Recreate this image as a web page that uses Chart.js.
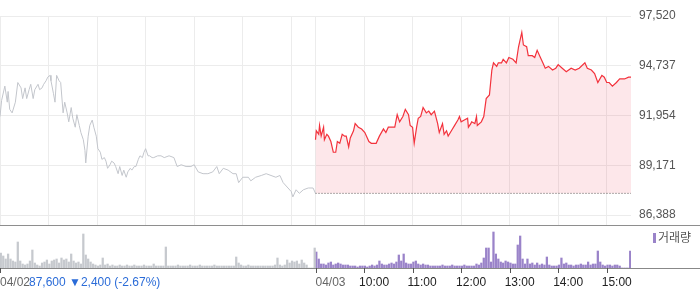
<!DOCTYPE html>
<html>
<head>
<meta charset="utf-8">
<script src="https://cdn.jsdelivr.net/npm/chart.js@4.4.1/dist/chart.umd.min.js"></script>
<style>
  body { margin: 0; background: #fff; }
  #wrap { position: relative; width: 700px; height: 289px; overflow: hidden; font-family: 'Liberation Sans', Arial, sans-serif; }
  canvas { position: absolute; left: 0; }
  #price-chart { top: 0; }
  #vol-chart { top: 226px; }
  .change { position: absolute; left: 29px; top: 275px; font-size: 12px; color: #2b6cd8; white-space: nowrap; line-height: 14px; }
  .vol-legend { position: absolute; left: 653px; top: 230px; font-size: 12px; color: #555; line-height: 14px; font-family: 'Noto Sans CJK KR', sans-serif; }
  .vol-legend i { display: inline-block; width: 3px; height: 10px; background: #9a83c9; margin-right: 2px; vertical-align: -1px; }
</style>
</head>
<body>
<div id="wrap">
  <canvas id="price-chart" width="700" height="226"></canvas>
  <canvas id="vol-chart" width="700" height="63"></canvas>
  <div class="change">87,600 ▼2,400 (-2.67%)</div>
  <div class="vol-legend"><i></i>거래량</div>
</div>
<script>
// minutes after 09:00, two sessions of 390 min each
const day1Min = [0,2,6,9,10,12,15,19,22,26,28,31,33,36,38,41,43,47,49,52,54,57,59,62,63,66,68,70,73,75,
  78,80,83,85,88,90,93,95,98,100,103,105,106,109,111,114,116,119,121,124,126,129,131,133,136,138,141,143,146,148,
  151,153,156,158,161,163,166,168,171,173,176,178,180,183,185,188,190,195,199,203,209,215,219,224,230,236,240,245,251,257,
  263,268,271,276,282,288,292,295,300,307,310,316,323,329,335,341,346,350,356,360,362,366,370,375,381,387,390];
const day1Price = [91900,92800,93600,92700,93300,92300,92100,92700,93800,93500,92900,93500,92900,93400,93700,92900,93400,93700,93400,93500,93700,93900,94100,94200,93900,93200,92700,94200,93900,93800,
  92100,92700,92100,91600,92400,91800,91300,92000,91400,91000,90600,90000,89300,90800,91400,91700,91300,90800,90100,89900,89500,89600,89400,89000,89200,89400,89300,89100,88700,89100,
  88600,88900,88500,88800,89000,88900,89100,89100,89500,89700,89600,89900,90100,89700,89700,89600,89600,89700,89700,89600,89700,89600,89100,89200,89100,89100,89200,88800,88700,88700,
  88800,89100,88700,89000,88900,88700,88700,88200,88500,88500,88300,88500,88600,88700,88600,88500,88600,88200,87900,87700,87400,87800,87600,87800,87900,87900,87600];

const day2Min = [0,1,4,5,7,10,11,14,16,19,22,25,27,30,33,36,38,41,43,47,49,53,57,61,66,69,75,79,84,87,
  90,94,98,101,104,108,111,115,117,120,122,125,127,130,133,137,140,143,147,151,153,157,159,162,164,168,172,176,178,180,
  184,188,189,192,193,197,199,200,205,208,211,215,218,220,224,226,230,232,236,239,244,248,251,255,257,261,263,268,271,274,
  278,281,284,288,293,297,300,305,310,316,321,326,333,336,341,345,349,354,357,360,363,367,372,376,382,387,390];
const day2Price = [90600,91100,90900,91400,90800,91300,90600,90900,90800,90500,89900,89900,90500,90400,90900,90800,90800,90200,90700,91100,91500,91300,91200,91000,90500,90400,90400,90800,91200,91000,
  91300,91300,91300,92000,91600,91900,92300,92000,91400,91300,90400,91300,91800,91900,92400,92100,92200,92000,92200,91500,91000,91500,90900,91100,90800,91100,91400,91700,91900,91600,
  91700,91800,91300,91500,91600,91500,91900,91400,91600,91900,92900,93100,94500,94900,94700,94900,94900,95100,94900,95200,95100,94900,95800,96600,95900,95800,95300,95300,95200,95600,
  95200,94900,94600,94700,94500,94600,94800,94600,94400,94600,94500,94600,94900,94600,94500,94300,93800,94200,94100,93800,93800,93600,93800,94000,94000,94100,94100];

const prevClose = 87600;
const yTicks = [86388, 89171, 91954, 94737, 97520];

// volume, 3-minute buckets from 09:00, plus the 15:30 closing auction
const day1Vol = [15,12,9,14,9,7,6,26,7,4, 3,4,7,18,5,3,2,5,6,8, 4,7,8,9,5,10,8,9,6,14,
  7,5,6,4,34,13,9,6,4,3, 2,3,10,3,4,2,3,2,2,3, 2,2,3,2,2,3,2,2,2,3,
  2,2,2,4,2,2,2,2,21,2, 2,2,2,3,2,2,2,2,3,2, 2,2,3,2,2,2,2,2,3,2,
  2,2,2,2,2,2,2,11,5,3, 2,2,3,2,2,2,2,2,2,2, 2,2,2,3,10,3,2,3,8,5,
  7,6,7,4,8,5,3,0,0,0];
const day2Vol = [16,9,4,4,3,5,6,3,4,5, 4,3,3,3,2,2,2,1,2,2, 2,1,2,3,2,3,7,4,3,3,
  4,5,4,6,13,7,14,5,4,4, 6,7,4,3,4,3,3,2,2,2, 2,2,3,2,2,2,3,2,2,2,
  2,3,2,2,2,2,4,3,5,10, 20,20,6,36,14,9,6,5,7,6, 5,4,4,23,32,9,4,9,4,5,
  3,5,3,4,3,11,3,2,2,2, 3,10,4,5,3,3,2,3,3,4, 3,3,6,3,4,4,17,6,3,2,
  3,3,2,3,3,2,0,0,0,0];
const day1CloseVol = 20;
const day2CloseVol = 17;

const xTickMinutes = [0, 390, 450, 510, 570, 630, 690, 750];
const xTickLabels = ['04/02', '04/03', '10:00', '11:00', '12:00', '13:00', '14:00', '15:00'];
const gridMinutes = [0, 60, 120, 180, 240, 300, 360, 390, 450, 510, 570, 630, 690, 750];

const FONT = "'Liberation Sans', Arial, sans-serif";
const toPts = (mins, vals, offset) => mins.map((m, i) => ({ x: m + offset, y: vals[i] }));

// kill the label overflow padding chart.js adds around axes
const noPad = s => { s.paddingTop = 0; s.paddingBottom = 0; s.paddingLeft = 0; s.paddingRight = 0; };

const priceBorder = {
    id: 'priceBorder',
    afterDraw(chart) {
        const ctx = chart.ctx;
        ctx.save();
        ctx.fillStyle = '#8e8e8e';
        ctx.fillRect(0, chart.chartArea.bottom, chart.width, 1);
        ctx.restore();
    }
};

new Chart(document.getElementById('price-chart'), {
    type: 'line',
    data: {
        datasets: [
            {
                data: toPts(day1Min, day1Price, 0),
                borderColor: '#c3c6cc',
                borderWidth: 1,
                fill: false
            },
            {
                data: toPts(day2Min, day2Price, 390),
                borderColor: '#f3323c',
                borderWidth: 1.2,
                fill: { value: prevClose },
                backgroundColor: 'rgba(240, 40, 60, 0.11)'
            },
            {
                data: [{ x: 390, y: prevClose }, { x: 780, y: prevClose }],
                borderColor: '#555',
                borderWidth: 1,
                borderDash: [1, 2],
                fill: false
            }
        ]
    },
    options: {
        responsive: false,
        animation: false,
        devicePixelRatio: 1,
        layout: { padding: { top: 16, bottom: 1, left: 0, right: 0 } },
        elements: { line: { tension: 0 }, point: { radius: 0 } },
        plugins: { legend: { display: false }, tooltip: { enabled: false } },
        scales: {
            x: {
                type: 'linear',
                min: 0,
                max: 780,
                afterBuildTicks: s => { s.ticks = gridMinutes.map(v => ({ value: v })); },
                afterFit: s => { s.height = 0; noPad(s); },
                ticks: { display: false },
                grid: { color: '#ececec', drawTicks: false },
                border: { display: false }
            },
            y: {
                position: 'right',
                min: 85830,
                max: 97520,
                afterBuildTicks: s => { s.ticks = yTicks.map(v => ({ value: v })); },
                afterFit: s => { s.width = 69; noPad(s); },
                ticks: {
                    padding: 8,
                    color: '#555',
                    font: { family: FONT, size: 12 },
                    callback: v => v.toLocaleString('en-US')
                },
                grid: { color: '#ececec', drawTicks: false },
                border: { display: false }
            }
        }
    },
    plugins: [priceBorder]
});

const volAxis = {
    id: 'volAxis',
    afterDraw(chart) {
        const ctx = chart.ctx;
        const xs = chart.scales.x;
        const base = chart.chartArea.bottom;
        ctx.save();
        ctx.fillStyle = '#888';
        ctx.fillRect(0, base, chart.width, 1);
        ctx.fillStyle = '#555';
        xTickMinutes.forEach(m => {
            const px = Math.round(xs.getPixelForValue(m));
            ctx.fillRect(Math.max(px, 0), base, 1, 5);
        });
        ctx.font = '12px ' + FONT;
        ctx.textAlign = 'left';
        ctx.textBaseline = 'middle';
        xTickMinutes.forEach((m, i) => {
            const px = xs.getPixelForValue(m);
            const isDate = xTickLabels[i].includes('/');
            ctx.fillStyle = isDate ? '#666' : '#222';
            ctx.fillText(xTickLabels[i], isDate ? px : px - 5, base + 15);
        });
        ctx.restore();
    }
};

new Chart(document.getElementById('vol-chart'), {
    type: 'bar',
    data: {
        datasets: [
            {
                data: toPts(day1Vol.map((v, i) => i * 3 + 1), day1Vol, 0).concat([{ x: 389, y: day1CloseVol }]),
                backgroundColor: '#c6c9ce'
            },
            {
                data: toPts(day2Vol.map((v, i) => i * 3 + 1), day2Vol, 390).concat([{ x: 779, y: day2CloseVol }]),
                backgroundColor: '#9a83c9'
            }
        ]
    },
    options: {
        responsive: false,
        animation: false,
        devicePixelRatio: 1,
        grouped: false,
        barThickness: 1.6,
        layout: { padding: { top: 0, bottom: 0, left: 0, right: 69 } },
        plugins: { legend: { display: false }, tooltip: { enabled: false } },
        scales: {
            x: {
                type: 'linear',
                min: 0,
                max: 780,
                offset: false,
                afterFit: s => { s.height = 21; noPad(s); },
                ticks: { display: false },
                grid: { display: false },
                border: { display: false }
            },
            y: {
                display: false,
                min: 0,
                max: 42
            }
        }
    },
    plugins: [volAxis]
});
</script>
</body>
</html>
